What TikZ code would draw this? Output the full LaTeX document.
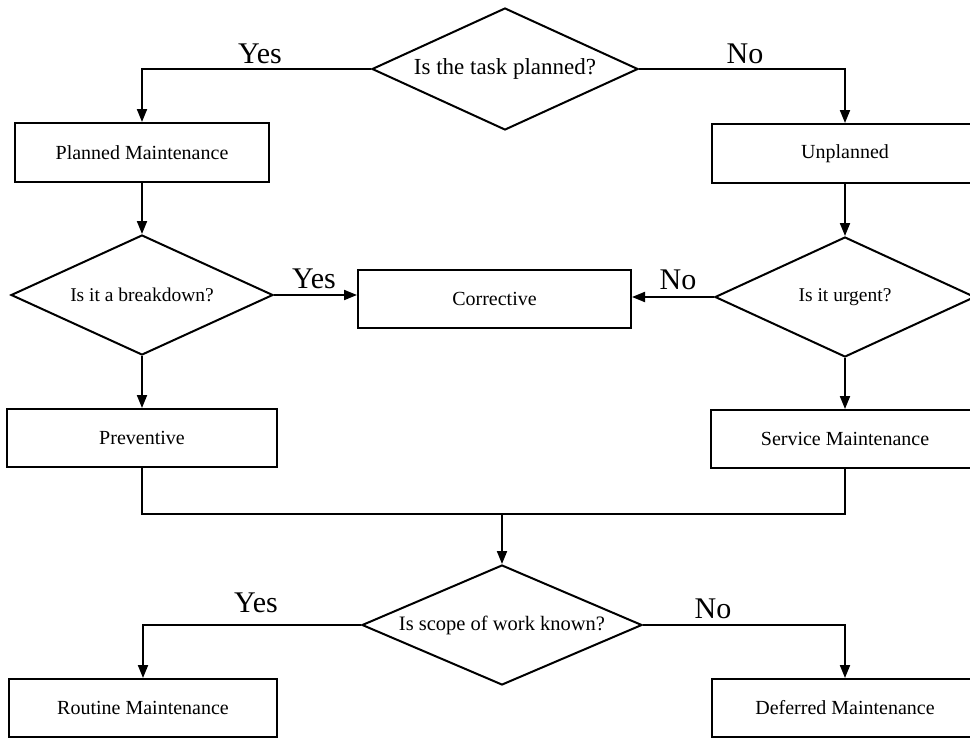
\documentclass[tikz,border=0pt]{standalone}
\usepackage{fontspec}
\setmainfont{Liberation Serif}
\usetikzlibrary{arrows.meta,shapes.geometric}
\begin{document}
\begin{tikzpicture}[x=1pt,y=-1pt,
  line width=2pt,
  flow/.style={-{Triangle[length=13pt,width=10pt]}},
  boxnode/.style={draw,rectangle,inner sep=0pt,font=\fontsize{20}{23}\selectfont},
  decide/.style={draw,diamond,inner sep=0pt,font=\fontsize{20}{23}\selectfont},
  lbl/.style={anchor=base,inner sep=0pt,font=\fontsize{30}{34}\selectfont}]
\useasboundingbox (0,0) rectangle (970,739);
% decisions
\node[decide,minimum width=266pt,minimum height=122pt,shape aspect=2.18,font=\fontsize{23}{26}\selectfont] (D1) at (505,69) {Is the task planned?};
\node[decide,minimum width=262pt,minimum height=120pt,shape aspect=2.18,font=\fontsize{19.5}{22}\selectfont] (D2) at (142,295) {Is it a breakdown?};
\node[decide,minimum width=260pt,minimum height=120pt,shape aspect=2.17,font=\fontsize{19.5}{22}\selectfont] (D3) at (845,297) {Is it urgent?};
\node[decide,minimum width=280pt,minimum height=120pt,shape aspect=2.33,font=\fontsize{20.5}{23}\selectfont] (D4) at (502,625) {Is scope of work known?};
% boxes
\node[boxnode,minimum width=254pt,minimum height=59pt] (PM) at (142,152.5) {Planned Maintenance};
\node[boxnode,minimum width=266pt,minimum height=59pt] (UP) at (845,153.5) {Unplanned};
\node[boxnode,minimum width=273pt,minimum height=58pt] (CO) at (494.5,299) {Corrective};
\node[boxnode,minimum width=270pt,minimum height=58pt] (PR) at (142,438) {Preventive};
\node[boxnode,minimum width=268pt,minimum height=58pt] (SM) at (845,439) {Service Maintenance};
\node[boxnode,minimum width=268pt,minimum height=58pt] (RM) at (143,708) {Routine Maintenance};
\node[boxnode,minimum width=266pt,minimum height=58pt] (DM) at (845,708) {Deferred Maintenance};
% labels
\node[lbl] (y1) at (260,63) {Yes};
\node[lbl] (n1) at (745,63) {No};
\node[lbl] (y2) at (314,288) {Yes};
\node[lbl] (n2) at (678,289) {No};
\node[lbl] (y3) at (256,612) {Yes};
\node[lbl] (n3) at (713,618) {No};
% connectors
\draw[flow] (D1.west) -| (PM.north);
\draw[flow] (D1.east) -| (UP.north);
\draw[flow] (PM.south) -- (D2.north);
\draw[flow] (UP.south) -- (D3.north);
\draw[flow] (D2.east) -- (D2.east -| CO.west);
\draw[flow] (D3.west) -- (D3.west -| CO.east);
\draw[flow] (D2.south) -- (PR.north);
\draw[flow] (D3.south) -- (SM.north);
\coordinate (M) at (502,514);
\draw (PR.south) |- (M) -| (SM.south);
\draw[flow] (M) -- (D4.north);
\draw[flow] (D4.west) -| (RM.north);
\draw[flow] (D4.east) -| (DM.north);
\end{tikzpicture}
\end{document}
